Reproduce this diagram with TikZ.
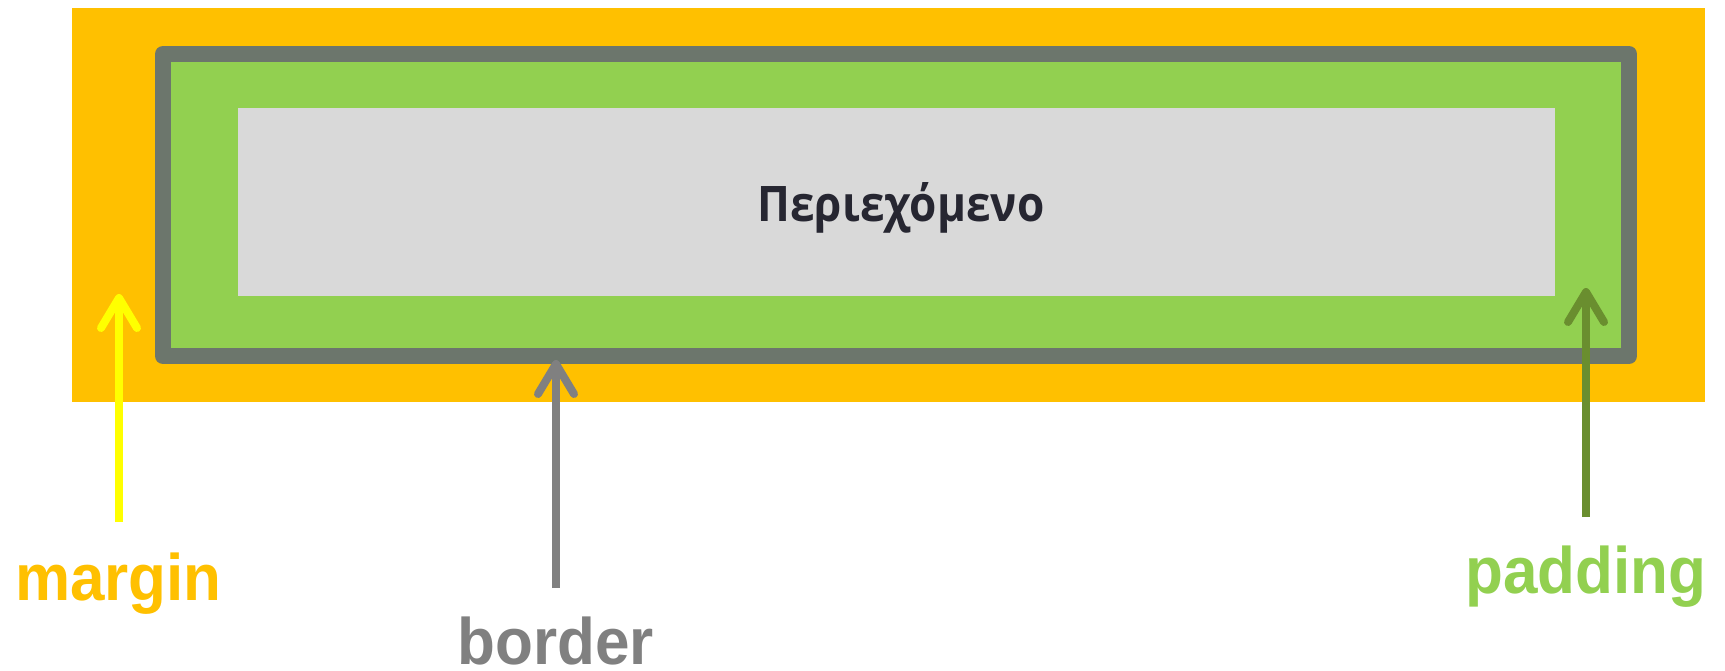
\documentclass[tikz,border=0pt]{standalone}
\usepackage{fontspec}
\setmainfont{Liberation Sans}
\newfontfamily\contentfont{Open Sans}
\usetikzlibrary{arrows.meta}
\definecolor{marginc}{HTML}{FFC000}
\definecolor{paddingc}{HTML}{92D050}
\definecolor{borderc}{HTML}{6C766C}
\definecolor{contentc}{HTML}{D9D9D9}
\definecolor{textc}{HTML}{262631}
\definecolor{yellowc}{HTML}{FFFF00}
\definecolor{grayarr}{HTML}{808080}
\definecolor{olivec}{HTML}{6A8E2F}
\tikzset{
  lbl/.style={font=\fontsize{31}{36}\selectfont\bfseries, inner sep=0pt, anchor=base},
  ptr/.style={line width=4pt, -{Straight Barb[length=15pt,width=18pt,round]}},
}
\newcommand{\tallr}[1]{\scalebox{1}[1.06]{#1}}
\begin{document}
\begin{tikzpicture}[x=0.5pt,y=-0.5pt]
\useasboundingbox (0,0) rectangle (1725,670);
% margin area
\fill[marginc] (72,8) rectangle (1705,402);
% border + padding
\draw[borderc, fill=paddingc, line width=8pt, line join=round] (163,54) rectangle (1629,356);
% content
\node[fill=contentc, minimum width=658.5pt, minimum height=94pt, inner sep=0pt] (content)
      at (896.5,202) {};
\node[font=\contentfont\fontsize{24.5}{28}\selectfont\bfseries, text=textc, inner sep=0pt, anchor=base] (ctext)
      at (901,221) {\scalebox{0.9}[1]{Περιεχόμενο}};
% labels
\node[lbl, text=marginc] (margin) at (118.5,600) {\tallr{margin}};
\node[lbl, text=grayarr] (border) at (555.5,664) {\tallr{border}};
\node[lbl, text=paddingc] (padding) at (1586,593) {\tallr{padding}};
% arrow ends
\coordinate (mtail) at (119,522);
\coordinate (mtip) at (119,294);
\coordinate (btail) at (556,588);
\coordinate (btip) at (556,360);
\coordinate (ptail) at (1586,517);
\coordinate (ptip) at (1586,288);
\draw[ptr, yellowc] (mtail) -- (mtip);
\draw[ptr, grayarr] (btail) -- (btip);
\draw[ptr, olivec] (ptail) -- (ptip);
\end{tikzpicture}
\end{document}
